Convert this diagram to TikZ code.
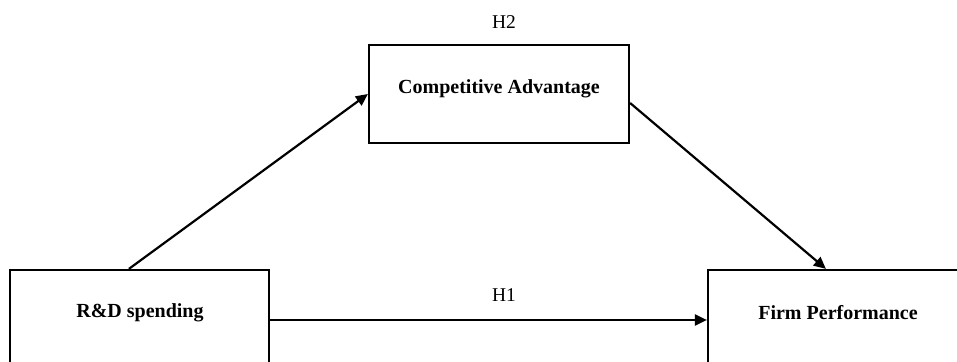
\documentclass[tikz,border=0pt]{standalone}
\usepackage{fontspec}
\setmainfont{Liberation Serif}
\usetikzlibrary{arrows.meta,calc}
\begin{document}
\begin{tikzpicture}[x=1pt,y=1pt,
  box/.style={draw=black, line width=2.2pt, fill=white, inner sep=0pt},
  lbl/.style={font=\fontsize{20}{22}\selectfont\bfseries, inner sep=0pt},
  hyp/.style={font=\fontsize{19.5}{21}\selectfont, inner sep=0pt},
  conn/.style={draw=black, line width=2.2pt, -{Triangle[length=12pt,width=11pt]}}]
\useasboundingbox (0,0) rectangle (957,361);
\clip (0,0) rectangle (957,361);
\fill[white] (0,0) rectangle (957,361);
\node[box, minimum width=260pt, minimum height=98pt] (ca) at (499,267) {};
\node[lbl] (catext) at (499,272) {Competitive Advantage};
\node[box, minimum width=259pt, minimum height=100pt] (rd) at (139.5,41) {};
\node[lbl] (rdtext) at (140,48) {R\&D spending};
\node[box, minimum width=262pt, minimum height=100pt] (fp) at (839,41) {};
\node[lbl] (fptext) at (838,48) {Firm Performance};
\node[hyp] (h2) at (504,339) {H2};
\node[hyp] (h1) at (504,66) {H1};
\draw[conn] ([xshift=120pt]rd.north west) -- (ca.west);
\draw[conn] ([yshift=-9pt]ca.east) -- ([xshift=119pt]fp.north west);
\draw[conn] (rd.east) -- (fp.west);
\end{tikzpicture}
\end{document}
